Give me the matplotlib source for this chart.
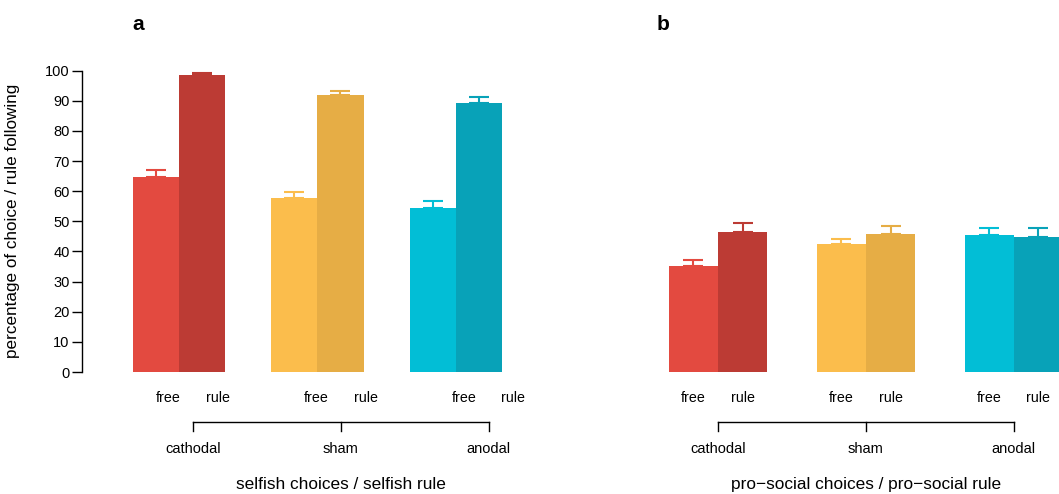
import matplotlib.pyplot as plt
import matplotlib.transforms as mtransforms

plt.rcParams['font.family'] = ['Liberation Sans', 'DejaVu Sans']

# dados
conditions = ['cathodal', 'sham', 'anodal']
bar_labels = ['free', 'rule']

selfish_free = [64.8, 57.8, 54.5]
selfish_free_se = [2.1, 2.0, 2.3]
selfish_rule = [98.7, 92.0, 89.4]
selfish_rule_se = [0.7, 1.4, 2.0]

prosocial_free = [35.2, 42.5, 45.5]
prosocial_free_se = [1.9, 1.7, 2.2]
prosocial_rule = [46.5, 45.8, 44.8]
prosocial_rule_se = [2.9, 2.8, 2.9]

free_colors = ['#E34A40', '#FBBD4C', '#02BED6']
rule_colors = ['#BC3B34', '#E6AD45', '#08A2B8']

W, H = 1059, 494
fig = plt.figure(figsize=(W / 100, H / 100), dpi=100)


def px_axes(left, right, bottom, top):
    # posição do eixo em pixels (origem no topo)
    return fig.add_axes([left / W, 1 - bottom / H, (right - left) / W, (bottom - top) / H])


ax_a = px_axes(82, 530, 372, 70.7)
ax_b = px_axes(600, 1059, 372, 70.7)

# escala em x: 1 unidade = largura de uma barra
ax_a.set_xlim((82 - 133) / 46.1, (530 - 133) / 46.1)
ax_b.set_xlim((600 - 668.7) / 49.3, (1059 - 668.7) / 49.3)


def draw_bars(ax, free, free_se, rule, rule_se):
    for g in range(len(conditions)):
        for k, (vals, se, cols) in enumerate([(free, free_se, free_colors),
                                              (rule, rule_se, rule_colors)]):
            x = 3 * g + k + 0.5
            ax.bar(x, vals[g], width=1.0, color=cols[g], linewidth=0, zorder=2)
            ax.errorbar(x, vals[g], yerr=[[0], [se[g]]], fmt='none', ecolor=cols[g],
                        elinewidth=1.5, capsize=7, capthick=1.5, zorder=3, clip_on=False)
    ax.set_ylim(0, 100)


draw_bars(ax_a, selfish_free, selfish_free_se, selfish_rule, selfish_rule_se)
draw_bars(ax_b, prosocial_free, prosocial_free_se, prosocial_rule, prosocial_rule_se)

# eixo y estilo R
for s in ['top', 'right', 'bottom']:
    ax_a.spines[s].set_visible(False)
ax_a.spines['left'].set_linewidth(1.0)
ax_a.set_xticks([])
ax_a.set_yticks(range(0, 101, 10))
ax_a.tick_params(axis='y', length=7, width=1.0, pad=2, labelsize=10.5)
ax_a.set_ylabel('percentage of choice / rule following', fontsize=12.3)
ax_a.yaxis.set_label_coords((20 - 82) / 448, 0.5)

ax_b.axis('off')


def fy(y):
    return 1 - y / H


def draw_annotations(shift_px, title):
    # rótulos usam a escala do painel b
    tx = mtransforms.offset_copy(ax_b.transData, fig=fig, x=shift_px, y=0, units='dots')
    tr = mtransforms.blended_transform_factory(tx, fig.transFigure)
    for g, cond in enumerate(conditions):
        for k, lab in enumerate(bar_labels):
            fig.text(3 * g + k + 0.5, fy(398), lab, transform=tr, ha='center', va='center',
                     fontsize=10.3)
        fig.text(3 * g + 1, fy(449), cond, transform=tr, ha='center', va='center', fontsize=10.5)
    centers = [3 * g + 1 for g in range(len(conditions))]
    line = plt.Line2D([centers[0], centers[-1]], [fy(422), fy(422)], transform=tr,
                      color='black', linewidth=1.0)
    fig.add_artist(line)
    for c in centers:
        fig.add_artist(plt.Line2D([c, c], [fy(422), fy(431)], transform=tr,
                                  color='black', linewidth=1.0))
    fig.text(centers[1], fy(484), title, transform=tr, ha='center', va='center', fontsize=12.4)


draw_annotations(-525, 'selfish choices / selfish rule')
draw_annotations(0, 'pro\u2212social choices / pro\u2212social rule')

fig.text(138 / W, fy(24), 'a', fontsize=15, fontweight='bold', ha='center', va='center')
fig.text(663 / W, fy(24), 'b', fontsize=15, fontweight='bold', ha='center', va='center')

fig.savefig('out.png', dpi=100)
